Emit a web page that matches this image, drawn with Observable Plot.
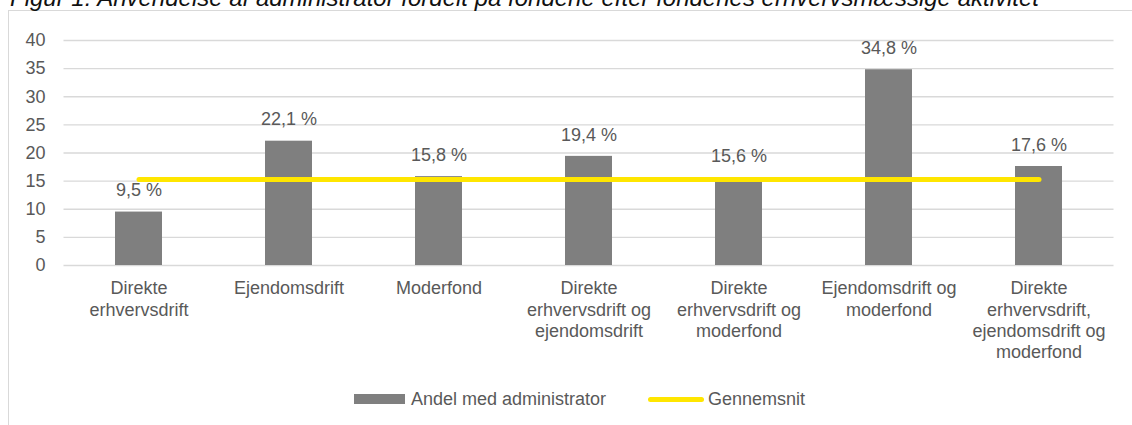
<!DOCTYPE html>
<html>
<head>
<meta charset="utf-8">
<script src="https://cdn.jsdelivr.net/npm/d3@7"></script>
<script src="https://cdn.jsdelivr.net/npm/@observablehq/plot@0.6"></script>
<style>
  body { margin: 0; background: #fff; font-family: "Liberation Sans", Arial, sans-serif; }
  #wrap { position: relative; width: 1132px; height: 425px; overflow: hidden; background: #fff; }
  #title { position: absolute; left: 10px; top: -14px; font-style: italic; font-size: 24px; line-height: 1; color: #111; white-space: nowrap; }
  #frame { position: absolute; left: 8px; top: 10px; width: 1140px; height: 440px; border: 1.5px solid #d9d9d9; box-sizing: border-box; }
  #chart { position: absolute; left: 0; top: 0; }
  #legend { position: absolute; left: 0; top: 370px; width: 1132px; height: 55px; font-size: 18px; color: #595959; }
  #legend .sw, #legend .lb { position: absolute; }
  #legend .lb { line-height: 1; white-space: nowrap; }
</style>
</head>
<body>
<div id="wrap">
  <div id="frame"></div>
  <div id="title">Figur 1: Anvendelse af administrator fordelt på fondene efter fondenes erhvervsmæssige aktivitet</div>
  <div id="chart"></div>
  <div id="legend">
    <span class="sw" style="left:354px;top:24px;width:51px;height:10px;background:#7f7f7f"></span>
    <span class="lb" style="left:411px;top:20px">Andel med administrator</span>
    <span class="sw" style="left:648px;top:26.5px;width:56px;height:5px;border-radius:3px;background:#ffe600"></span>
    <span class="lb" style="left:708px;top:20px">Gennemsnit</span>
  </div>
</div>
<script>
const categories = [
  "Direkte erhvervsdrift",
  "Ejendomsdrift",
  "Moderfond",
  "Direkte erhvervsdrift og ejendomsdrift",
  "Direkte erhvervsdrift og moderfond",
  "Ejendomsdrift og moderfond",
  "Direkte erhvervsdrift, ejendomsdrift og moderfond"
];
const tickLabels = [
  "Direkte\nerhvervsdrift",
  "Ejendomsdrift",
  "Moderfond",
  "Direkte\nerhvervsdrift og\nejendomsdrift",
  "Direkte\nerhvervsdrift og\nmoderfond",
  "Ejendomsdrift og\nmoderfond",
  "Direkte\nerhvervsdrift,\nejendomsdrift og\nmoderfond"
];
const shares = [9.5, 22.1, 15.8, 19.4, 15.6, 34.8, 17.6];
const averages = [15.3, 15.3, 15.3, 15.3, 15.3, 15.3, 15.3];
const yTicks = [0, 5, 10, 15, 20, 25, 30, 35, 40];

const table = categories.map((c, i) => ({category: c, share: shares[i], average: averages[i]}));
const fmt = v => v.toFixed(1).replace(".", ",") + " %";

const chart = Plot.plot({
  width: 1132,
  height: 370,
  marginTop: 40,
  marginBottom: 105,
  marginLeft: 63.5,
  marginRight: 18.5,
  style: {fontFamily: "'Liberation Sans', Arial, sans-serif", fontSize: "18px", color: "#595959", background: "transparent", overflow: "visible"},
  x: {type: "band", domain: categories, paddingInner: 0.687, paddingOuter: 0.3435},
  y: {domain: [0, 40]},
  marks: [
    Plot.gridY(yTicks, {stroke: "#d9d9d9", strokeOpacity: 1, strokeWidth: 1.3}),
    Plot.axisY(yTicks, {tickSize: 0, tickPadding: 18.5, fontSize: 18, fill: "#595959", label: null}),
    Plot.axisX({tickSize: 0, tickPadding: 14, fontSize: 18, fill: "#595959", lineHeight: 1.17, label: null,
      tickFormat: d => tickLabels[categories.indexOf(d)]}),
    Plot.barY(table, {x: "category", y: "share", fill: "#7f7f7f"}),
    Plot.line(table, {x: "category", y: "average", stroke: "#ffe600", strokeWidth: 5, strokeLinecap: "round"}),
    Plot.text(table, {x: "category", y: "share", text: d => fmt(d.share), dy: -21.5, fontSize: 18, fill: "#595959"})
  ]
});
document.getElementById("chart").appendChild(chart);
</script>
</body>
</html>
